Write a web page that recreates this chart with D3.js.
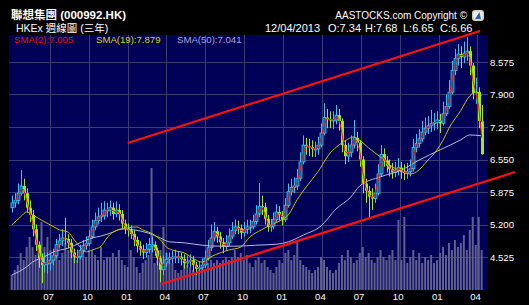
<!DOCTYPE html>
<html><head><meta charset="utf-8">
<script src="https://cdn.jsdelivr.net/npm/d3@7"></script>
<style>html,body{margin:0;padding:0;background:#000;}svg{display:block;}</style>
</head><body>
<svg id="c" width="529" height="305"></svg>
<script>
// ---------- data (weekly, 02/04/2010 .. 12/04/2013) ----------
const firstWeek = "2010-04-02";
const lastWeek = "2013-04-12";
const opens = [5.55,5.65,5.70,5.85,6.00,5.85,5.55,5.40,5.10,4.78,4.50,4.36,4.40,4.40,4.46,4.55,4.78,4.86,4.92,4.90,4.82,4.62,4.53,4.53,4.66,4.76,4.80,4.95,5.15,5.28,5.36,5.38,5.50,5.50,5.55,5.42,5.50,5.42,5.22,5.12,5.08,5.00,4.88,4.75,4.68,4.62,4.68,4.78,4.78,4.66,4.50,4.26,4.40,4.48,4.50,4.52,4.53,4.53,4.48,4.40,4.43,4.46,4.36,4.28,4.30,4.36,4.50,4.72,4.92,5.06,4.95,4.83,4.74,4.82,4.96,5.08,5.15,5.12,5.03,5.10,5.15,5.15,5.26,5.42,5.58,5.56,5.32,5.15,5.17,5.30,5.46,5.40,5.30,5.60,5.88,5.97,6.00,6.16,6.50,6.85,6.82,6.81,6.77,6.77,6.85,7.10,7.42,7.38,7.37,7.37,7.47,7.35,6.85,6.62,6.70,6.85,7.00,6.90,6.55,6.05,5.90,5.78,5.74,5.85,6.25,6.66,6.53,6.42,6.35,6.28,6.33,6.38,6.30,6.27,6.30,6.36,6.80,6.88,6.98,7.12,7.20,7.25,7.30,7.32,7.37,7.30,7.50,7.65,7.95,8.40,8.65,8.74,8.68,8.76,8.80,8.50,7.93,7.95,7.34];
const closes = [5.65,5.70,5.85,6.00,5.85,5.55,5.40,5.10,4.78,4.50,4.36,4.40,4.40,4.46,4.55,4.78,4.86,4.92,4.90,4.82,4.62,4.53,4.53,4.66,4.76,4.80,4.95,5.15,5.28,5.36,5.38,5.50,5.50,5.55,5.42,5.50,5.42,5.22,5.12,5.08,5.00,4.88,4.75,4.68,4.62,4.68,4.78,4.78,4.66,4.50,4.26,4.40,4.48,4.50,4.52,4.53,4.53,4.48,4.40,4.43,4.46,4.36,4.28,4.30,4.36,4.50,4.72,4.92,5.06,4.95,4.83,4.74,4.82,4.96,5.08,5.15,5.12,5.03,5.10,5.15,5.15,5.26,5.42,5.58,5.56,5.32,5.15,5.17,5.30,5.46,5.40,5.30,5.60,5.88,5.97,6.00,6.16,6.50,6.85,6.82,6.81,6.77,6.77,6.85,7.10,7.42,7.38,7.37,7.37,7.47,7.35,6.85,6.62,6.70,6.85,7.00,6.90,6.55,6.05,5.90,5.78,5.74,5.85,6.25,6.66,6.53,6.42,6.35,6.28,6.33,6.38,6.30,6.27,6.30,6.36,6.80,6.88,6.98,7.12,7.20,7.25,7.30,7.32,7.37,7.30,7.50,7.65,7.95,8.40,8.65,8.74,8.68,8.76,8.80,8.50,7.93,7.95,7.35,6.66];
const highs = [5.80,5.85,6.05,6.33,6.15,5.95,5.70,5.50,5.20,4.85,4.60,4.62,4.62,4.60,4.70,4.90,5.00,5.10,5.34,5.00,4.90,4.70,4.68,4.78,4.88,4.95,5.08,5.30,5.45,5.55,5.65,5.68,5.65,5.70,5.65,5.68,5.62,5.50,5.30,5.22,5.18,5.08,4.95,4.85,4.78,4.82,4.92,4.95,4.85,4.72,4.55,4.55,4.62,4.62,4.65,4.68,4.65,4.62,4.58,4.56,4.58,4.55,4.42,4.42,4.50,4.66,4.88,5.20,5.25,5.15,5.05,4.92,4.98,5.12,5.25,5.30,5.28,5.20,5.25,5.30,5.30,5.40,5.60,6.06,5.80,5.65,5.40,5.32,5.45,5.62,5.58,5.48,5.75,6.05,6.15,6.18,6.35,6.70,7.05,7.00,6.98,6.95,6.92,7.02,7.30,7.72,7.60,7.55,7.55,7.68,7.60,7.40,6.95,6.90,7.05,7.37,7.12,6.95,6.62,6.15,6.00,5.95,6.05,6.45,6.85,6.78,6.62,6.55,6.48,6.50,6.58,6.50,6.45,6.48,6.55,6.98,7.08,7.18,7.35,7.42,7.45,7.58,7.52,7.55,7.50,7.75,7.90,8.20,8.60,8.85,8.95,8.90,9.00,9.09,8.90,8.55,8.25,8.05,7.68];
const lows = [5.45,5.55,5.62,5.80,5.70,5.45,5.25,4.95,4.65,4.30,3.98,4.20,4.18,4.25,4.35,4.50,4.70,4.75,4.78,4.70,4.50,4.40,4.40,4.48,4.60,4.68,4.75,4.90,5.08,5.20,5.25,5.30,5.35,5.38,5.30,5.35,5.28,5.10,5.00,4.95,4.90,4.75,4.62,4.55,4.48,4.52,4.60,4.62,4.55,4.35,4.00,4.15,4.32,4.38,4.40,4.40,4.40,4.35,4.28,4.30,4.32,4.22,4.15,4.18,4.22,4.30,4.45,4.65,4.85,4.82,4.70,4.60,4.65,4.75,4.90,5.00,5.00,4.90,4.95,5.00,5.02,5.10,5.20,5.35,5.40,5.20,5.05,5.05,5.10,5.25,5.28,5.18,5.25,5.55,5.80,5.85,5.92,6.10,6.45,6.65,6.62,6.60,6.60,6.65,6.80,7.05,7.20,7.20,7.18,7.28,7.15,6.70,6.45,6.50,6.60,6.78,6.72,6.40,5.85,5.65,5.36,5.50,5.65,5.80,6.20,6.40,6.28,6.20,6.15,6.18,6.22,6.15,6.12,6.15,6.20,6.30,6.70,6.80,6.92,7.05,7.08,7.12,7.15,7.18,7.10,7.25,7.45,7.60,7.90,8.30,8.50,8.45,8.55,8.60,8.30,7.80,7.70,7.20,6.65];
const volumes = [75,100,125,185,150,215,265,215,175,225,340,215,265,200,165,200,150,185,235,200,200,165,150,185,200,165,200,200,175,150,215,150,165,165,185,165,200,150,125,115,200,165,115,85,135,150,175,610,135,150,200,315,185,165,135,100,85,100,150,125,115,100,85,100,115,100,135,150,135,150,135,150,165,150,165,200,165,185,150,175,135,115,150,165,135,150,115,100,85,115,150,135,185,200,150,175,240,150,125,115,100,85,100,115,165,150,115,100,85,100,135,175,150,200,165,135,150,185,215,165,185,150,135,165,200,165,150,175,200,150,350,150,365,135,165,200,150,185,135,165,150,175,135,150,185,215,175,235,200,250,215,235,275,200,300,365,225,365,200];
// SMA(19) and SMA(50): week index -> value
const sma19Week = [0,3,5,7,10,13,16,19,21,23,25,27,30,32,34,36,39,42,44,48,50,52,54,58,62,64,67,70,73,77,80,84,87,90,93,96,99,103,107,110,113,115,117,120,124,127,130,134,136,140,143,145,147,151,154,156,158];
const sma19Vals = [5.19,5.36,5.46,5.40,5.29,5.19,5.09,5.04,4.88,4.73,4.63,4.67,4.75,4.92,5.04,5.09,5.13,5.15,5.09,4.98,4.88,4.73,4.67,4.61,4.46,4.42,4.53,4.61,4.67,4.73,4.94,5.09,5.19,5.27,5.40,5.72,5.98,6.30,6.68,6.85,6.97,7.02,6.95,6.79,6.60,6.44,6.33,6.25,6.29,6.54,6.75,6.95,7.20,7.57,7.87,7.95,7.879];
const sma50Week = [0,5,7,11,14,19,23,27,30,34,37,41,46,50,53,58,64,70,76,82,89,93,98,104,109,114,117,124,131,137,144,151,154,158];
const sma50Vals = [4.15,4.32,4.42,4.53,4.63,4.71,4.82,4.92,4.96,5.04,5.11,5.09,5.02,4.92,4.84,4.82,4.77,4.75,4.75,4.77,4.79,4.84,4.98,5.17,5.52,5.77,6.00,6.19,6.33,6.54,6.75,6.96,7.06,7.041];
const priceTicks = [4.525,5.200,5.875,6.550,7.225,7.900,8.575];
const monthTicks = ["2010-07-01","2010-10-01","2011-01-01","2011-04-01","2011-07-01","2011-10-01","2012-01-01","2012-04-01","2012-07-01","2012-10-01","2013-01-01","2013-04-01"];
const trendUpper = [["2010-12-31",6.893],["2013-04-08",9.219]];
const trendLower = [["2011-03-21",3.964],["2013-06-29",6.29]];
const legendItems = [["SMA(2):7.005","#e01010"],["SMA(19):7.879","#d8d800"],["SMA(50):7.041","#a8a8d8"]];
const titleText = "聯想集團 (000992.HK)";
const subText = "HKEx 週線圖 (三年)";
const copyText = "AASTOCKS.com Copyright ©";
const quoteTexts = ["12/04/2013","O:7.34","H:7.68","L:6.65","C:6.66"];

// ---------- layout ----------
const P = {left:9, right:488, top:35, bottom:290};
const parse = d3.timeParse("%Y-%m-%d");
const weeks = d3.timeFriday.range(parse(firstWeek), d3.timeDay.offset(parse(lastWeek),1));
const n = Math.min(weeks.length, closes.length, opens.length, highs.length, lows.length);

const x = d3.scaleTime().domain([parse("2010-07-01"), parse("2013-04-01")]).range([50, 477]);
const y = d3.scaleLinear().domain([4.525, 8.575]).range([257, 62]);
const yv = d3.scaleLinear().domain([0, 610]).range([P.bottom, 168]);

const svg = d3.select("#c");
svg.append("rect").attr("width",529).attr("height",305).attr("fill","#000");
svg.append("defs").append("clipPath").attr("id","clip").append("rect")
  .attr("x",P.left).attr("y",P.top).attr("width",P.right-P.left).attr("height",P.bottom-P.top);
svg.append("rect").attr("x",P.left).attr("y",P.top).attr("width",P.right-P.left).attr("height",P.bottom-P.top).attr("fill","#000056");

const g = svg.append("g").attr("clip-path","url(#clip)");

// grid
g.selectAll(".hg").data(priceTicks).join("line")
  .attr("x1",P.left).attr("x2",P.right).attr("y1",d=>Math.round(y(d))+0.5).attr("y2",d=>Math.round(y(d))+0.5)
  .attr("stroke","#3c3c72").attr("stroke-width",1);
g.selectAll(".vg").data(monthTicks.map(parse)).join("line")
  .attr("y1",P.top).attr("y2",P.bottom).attr("x1",d=>Math.round(x(d))+0.5).attr("x2",d=>Math.round(x(d))+0.5)
  .attr("stroke","#3c3c72").attr("stroke-width",1);

const idx = d3.range(n);
// volume
g.selectAll(".vol").data(idx).join("rect")
  .attr("x",i=>x(weeks[i])-1).attr("width",2)
  .attr("y",i=>yv(volumes[i])).attr("height",i=>P.bottom-yv(volumes[i]))
  .attr("fill","#5f5f90");

// candles
const upC = "#33c4f4", dnC = "#9cf000";
g.selectAll(".wick").data(idx).join("line")
  .attr("x1",i=>Math.round(x(weeks[i]))+0.5).attr("x2",i=>Math.round(x(weeks[i]))+0.5)
  .attr("y1",i=>y(highs[i])).attr("y2",i=>y(lows[i]))
  .attr("stroke",i=>closes[i]>=opens[i]?upC:dnC).attr("stroke-width",1);
g.selectAll(".body").data(idx).join("rect")
  .attr("x",i=>Math.round(x(weeks[i]))-1)
  .attr("width",3)
  .attr("y",i=>y(Math.max(opens[i],closes[i])))
  .attr("height",i=>Math.max(1, Math.abs(y(opens[i])-y(closes[i]))))
  .attr("fill",i=>closes[i]>=opens[i]?"#1a5a9a":dnC)
  .attr("stroke",i=>closes[i]>=opens[i]?upC:"none")
  .attr("stroke-width",0.8);

// SMA lines
const sma2 = d3.range(1,n).map(i=>[weeks[i], (closes[i]+closes[i-1])/2]);
const line = d3.line().x(d=>x(d[0])).y(d=>y(d[1]));
g.append("path").datum(sma50Week.map((w,k)=>[weeks[w], sma50Vals[k]]))
  .attr("d", line.curve(d3.curveMonotoneX)).attr("fill","none").attr("stroke","#b8b8e6").attr("stroke-width",1);
g.append("path").datum(sma19Week.map((w,k)=>[weeks[w], sma19Vals[k]]))
  .attr("d", line.curve(d3.curveMonotoneX)).attr("fill","none").attr("stroke","#c8c400").attr("stroke-width",1);
g.append("path").datum(sma2)
  .attr("d", line.curve(d3.curveLinear)).attr("fill","none").attr("stroke","#ee1111").attr("stroke-width",1);

// trend lines (not clipped)
const tline = d3.line().x(d=>x(parse(d[0]))).y(d=>y(d[1]));
[trendUpper, trendLower].forEach(t=>{
  svg.append("path").attr("d",tline(t)).attr("stroke","#ff1010").attr("stroke-width",2.2).attr("fill","none");
});

// legend in header strip
const lx = [14, 96, 177];
svg.selectAll(".leg").data(legendItems).join("text")
  .attr("x",(d,i)=>lx[i]).attr("y",43)
  .attr("fill",d=>d[1]).attr("font-family","'Liberation Sans',Arial,sans-serif").attr("font-size","9.6px")
  .text(d=>d[0]);

// axes
const fontF = "'Liberation Sans',Arial,sans-serif";
const yAxis = d3.axisRight(y).tickValues(priceTicks).tickFormat(d3.format(".3f")).tickSize(0).tickPadding(2);
const ya = svg.append("g").attr("transform",`translate(${P.right},0)`).call(yAxis);
ya.select(".domain").remove();
ya.selectAll("text").attr("fill","#fff").attr("font-family",fontF).attr("font-size","9.6px");

const xAxis = d3.axisBottom(x).tickValues(monthTicks.map(parse)).tickFormat(d3.timeFormat("%m")).tickSize(0).tickPadding(3);
const xa = svg.append("g").attr("transform",`translate(-2,${P.bottom})`).call(xAxis);
xa.select(".domain").remove();
xa.selectAll("text").attr("fill","#fff").attr("font-family",fontF).attr("font-size","9.6px");

// titles
svg.append("text").attr("x",11).attr("y",19).attr("fill","#fff")
  .attr("font-family","'Liberation Sans','Noto Sans CJK TC',sans-serif").attr("font-weight","bold").attr("font-size","11.5px").text(titleText);
svg.append("text").attr("x",16).attr("y",31.5).attr("fill","#fff")
  .attr("font-family","'Liberation Sans','Noto Sans CJK TC',sans-serif").attr("font-size","10.5px").text(subText);
svg.append("text").attr("x",467).attr("y",19).attr("text-anchor","end").attr("fill","#fff")
  .attr("font-family",fontF).attr("font-size","10px").text(copyText);
const qx = [265, 328, 365, 403, 440];
svg.selectAll(".q").data(quoteTexts).join("text")
  .attr("x",(d,i)=>qx[i]).attr("y",32).attr("fill","#fff")
  .attr("font-family",fontF).attr("font-size","11px").text(d=>d);

// logo
const lg = svg.append("g").attr("transform","translate(472,10)");
lg.append("rect").attr("width",12).attr("height",11).attr("rx",3).attr("fill","#d9d0a8");
lg.append("rect").attr("x",1.5).attr("y",1.5).attr("width",9).attr("height",8).attr("rx",2).attr("fill","#e8eef5");
lg.append("path").attr("d","M3,9 L7.5,2 L9,9 Z").attr("fill","#2a5fb0");
</script>
</body></html>
